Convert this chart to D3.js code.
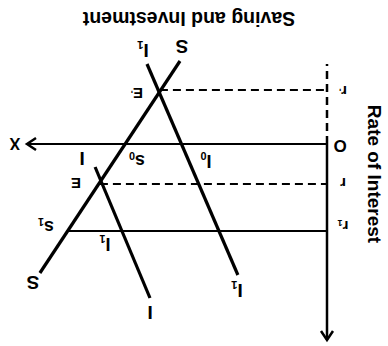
<!DOCTYPE html>
<html>
<head>
<meta charset="utf-8">
<script src="https://cdn.jsdelivr.net/npm/d3@7"></script>
<style>
  body { margin: 0; background: #fff; }
  svg text { font-family: "Liberation Sans", Arial, sans-serif; font-weight: bold; fill: #000; }
</style>
</head>
<body>
<div id="chart"></div>
<script>
// diagram is printed upside down: quantity grows to the left, rate grows downward
var sCurve  = [[4.9, -4.15], [9.57, 6.45]];
var iCurve  = [[7.73, 1.15], [5.9, 7.7]];
var i1Curve = [[6.0, -4.0], [2.97, 6.55]];

var rates = { rPrime: -2.7, r: 2.0, r1: 4.35 };
var eqPrime = [5.57, -2.7];   // E'
var eq      = [7.57, 2.0];    // E
var s1Pt    = [8.67, 4.35];   // s1
var s0Q = 6.73, i0Q = 4.87;   // where S and I1 cut the quantity axis

var xMax = 10, yMax = 9.8, yTop = -4;

var W = 388, H = 346;
var svg = d3.select("#chart").append("svg").attr("width", W).attr("height", H);

var x = d3.scaleLinear().domain([0, 10]).range([327, 27]);
var y = d3.scaleLinear().domain([0, 10]).range([144, 344]);

var line = d3.line().x(function(d){ return x(d[0]); }).y(function(d){ return y(d[1]); });

// axes
svg.append("line").attr("x1", x(0)).attr("y1", y(0)).attr("x2", x(xMax)).attr("y2", y(0))
  .attr("stroke", "#000").attr("stroke-width", 2);
svg.append("path").attr("d", "M" + (x(xMax) + 9) + "," + (y(0) - 6) + "L" + x(xMax) + "," + y(0) + "L" + (x(xMax) + 9) + "," + (y(0) + 6))
  .attr("fill", "none").attr("stroke", "#000").attr("stroke-width", 2.5);
svg.append("line").attr("x1", x(0)).attr("y1", y(0)).attr("x2", x(0)).attr("y2", y(yMax))
  .attr("stroke", "#000").attr("stroke-width", 2.5);
svg.append("path").attr("d", "M" + (x(0) - 6) + "," + (y(yMax) - 9) + "L" + x(0) + "," + y(yMax) + "L" + (x(0) + 6) + "," + (y(yMax) - 9))
  .attr("fill", "none").attr("stroke", "#000").attr("stroke-width", 2.5);
svg.append("line").attr("x1", x(0)).attr("y1", y(0)).attr("x2", x(0)).attr("y2", y(yTop))
  .attr("stroke", "#000").attr("stroke-width", 2.5).attr("stroke-dasharray", "8,5");

// guide lines
svg.append("line").attr("x1", x(eqPrime[0])).attr("y1", y(rates.rPrime)).attr("x2", x(0)).attr("y2", y(rates.rPrime))
  .attr("stroke", "#000").attr("stroke-width", 2).attr("stroke-dasharray", "8,5");
svg.append("line").attr("x1", x(eq[0])).attr("y1", y(rates.r)).attr("x2", x(0)).attr("y2", y(rates.r))
  .attr("stroke", "#000").attr("stroke-width", 2).attr("stroke-dasharray", "8,5");
svg.append("line").attr("x1", x(s1Pt[0])).attr("y1", y(rates.r1)).attr("x2", x(0)).attr("y2", y(rates.r1))
  .attr("stroke", "#000").attr("stroke-width", 1.8);

// schedules
[sCurve, iCurve, i1Curve].forEach(function(c){
  svg.append("path").attr("d", line(c)).attr("fill", "none")
    .attr("stroke", "#000").attr("stroke-width", 3.2);
});

// upside-down labels
function label(px, py, txt, sub, size, rot){
  var t = svg.append("text")
    .attr("x", px).attr("y", py)
    .attr("text-anchor", "middle")
    .attr("dominant-baseline", "central")
    .attr("font-size", size)
    .attr("transform", "rotate(" + (rot == null ? 180 : rot) + "," + px + "," + py + ")");
  t.append("tspan").text(txt);
  if (sub) t.append("tspan").attr("font-size", size * 0.6).attr("dy", size * 0.3).text(sub);
  return t;
}

label(189, 19, "Saving and Investment", null, 19.5);
label(375, 174, "Rate of Interest", null, 19, 90);

label(15, y(0), "X", null, 16);
label(340, y(0) + 2, "O", null, 17);
label(x(0) + 16, y(rates.rPrime) + 2, "r", "'", 15);
label(x(0) + 16, y(rates.r), "r", null, 15);
label(x(0) + 16, y(rates.r1) - 4, "r", "1", 15);

label(x(sCurve[0][0]) + 2, y(sCurve[0][1]) - 14, "S", null, 19);
label(x(sCurve[1][0]) - 7, y(sCurve[1][1]) + 10, "S", null, 19);
label(x(i1Curve[0][0]) - 4, y(i1Curve[0][1]) - 13, "I", "1", 19);
label(x(i1Curve[1][0]) - 1, y(i1Curve[1][1]) + 16, "I", "1", 19);
label(x(iCurve[0][0]) - 13, y(iCurve[0][1]) - 8, "I", null, 19);
label(x(iCurve[1][0]), y(iCurve[1][1]) + 15, "I", null, 19);

label(x(eqPrime[0]) - 23, y(eqPrime[1]) + 4, "E", "'", 15);
label(x(eq[0]) - 24, y(eq[1]), "E", null, 15);
label(x(s1Pt[0]) - 21, y(rates.r1) - 4, "s", "1", 18);
label(x(s0Q) + 12, y(0) + 17, "s", "0", 18);
label(x(i0Q) + 25, y(0) + 17, "I", "0", 18);
label(x(eq[0]) + 5, y(rates.r1) + 13, "I", "1", 18);
</script>
</body>
</html>
